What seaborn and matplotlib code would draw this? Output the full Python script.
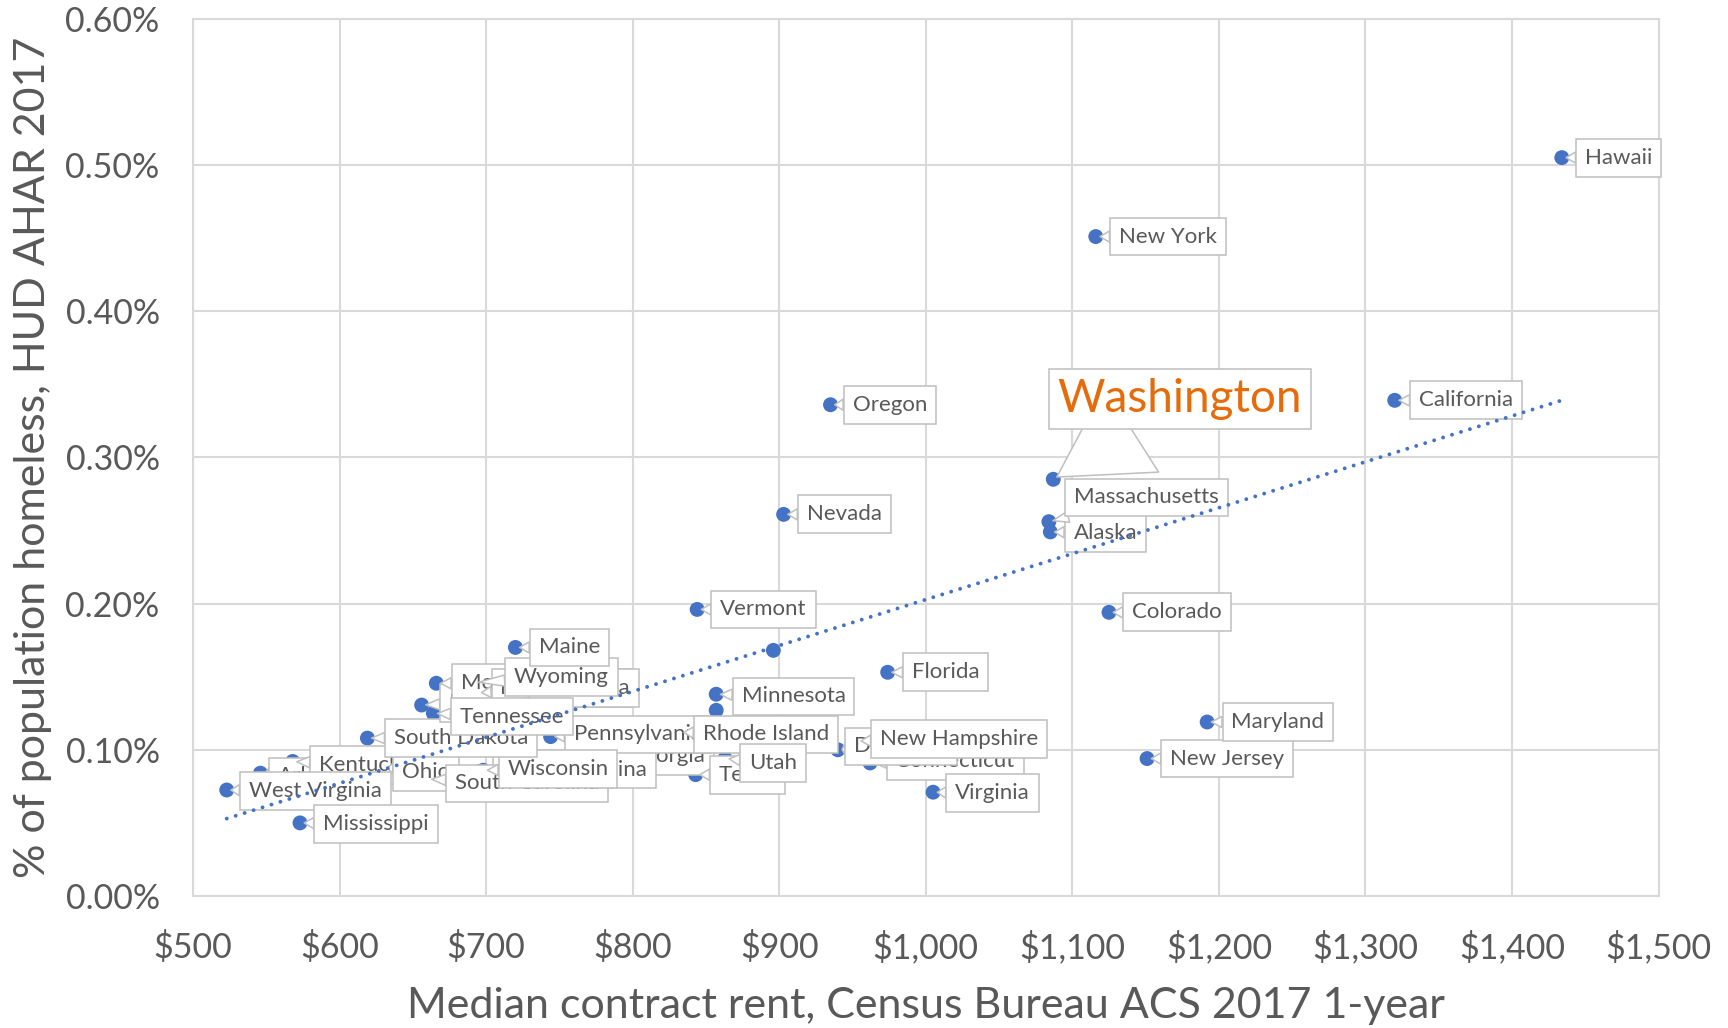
import numpy as np
import pandas as pd
import matplotlib
matplotlib.use('Agg')
import matplotlib.pyplot as plt
from matplotlib.ticker import FuncFormatter
import seaborn as sns

# median contract rent ($) and % of population homeless
states = ['Hawaii', 'New York', 'California', 'Oregon', 'Washington', 'Nevada',
          'Massachusetts', 'Alaska', 'Vermont', 'Colorado', 'Maine', '',
          'Florida', 'Maryland', 'New Jersey', 'Virginia', 'Mississippi',
          'Arizona', 'Minnesota', 'Connecticut', 'Delaware', 'New Hampshire',
          'Texas', 'Utah', 'Pennsylvania', 'Rhode Island', 'Georgia',
          'North Carolina', 'Wisconsin', 'South Carolina', 'Ohio', 'Kentucky',
          'Arkansas', 'West Virginia', 'South Dakota', 'Tennessee', 'Idaho',
          'Montana', 'New Mexico', 'Nebraska', 'Wyoming']
rent = [1434, 1116, 1320, 935, 1087, 903,
        1084, 1085, 844, 1125, 720, 896,
        974, 1192, 1151, 1005, 573,
        857, 857, 962, 940, 953,
        843, 863, 744, 832, 782,
        695, 698, 660, 630, 568,
        546, 523, 619, 664, 656,
        666, 694, 720, 692]
homeless_pct = [0.505, 0.451, 0.339, 0.336, 0.285, 0.261,
                0.256, 0.249, 0.196, 0.194, 0.170, 0.168,
                0.153, 0.119, 0.094, 0.071, 0.050,
                0.127, 0.138, 0.091, 0.100, 0.106,
                0.083, 0.094, 0.109, 0.112, 0.093,
                0.085, 0.086, 0.080, 0.088, 0.092,
                0.084, 0.0725, 0.108, 0.125, 0.1306,
                0.1455, 0.139, 0.130, 0.146]

# where each callout sits: (right, down) from its point, in reference pixels
label_offsets = {
    'Connecticut': (23, -2), 'Delaware': (15, -3), 'New Hampshire': (21, -2),
    'Georgia': (20, -4), 'North Carolina': (21, -2), 'Texas': (21, 0),
    'Pennsylvania': (21, -2), 'Rhode Island': (21, 2), 'Utah': (22, 4),
    'Arkansas': (16, 3), 'Kentucky': (24, 3), 'Ohio': (17, 4),
    'South Carolina': (25, 4), 'Wisconsin': (22, -1), 'South Dakota': (24, 0),
    'Idaho': (25, -2), 'Montana': (22, 0), 'New Mexico': (21, -4),
    'Nebraska': (20, -16), 'Tennessee': (24, 3), 'Wyoming': (36, -5),
    'West Virginia': (20, 1),
    'Mississippi': (21, 1), 'Minnesota': (23, 2), 'Maine': (21, 0),
    'Vermont': (21, 0), 'Florida': (22, 0), 'Virginia': (20, 1),
    'New Jersey': (21, 0), 'Maryland': (22, 0), 'Colorado': (21, 0),
    'Nevada': (21, 0), 'Oregon': (20, 0), 'California': (22, 0),
    'New York': (21, 0), 'Hawaii': (21, 0), 'Alaska': (21, 1),
    'Massachusetts': (23, -22),
}
K = 0.7935  # reference px -> points

df = pd.DataFrame({'state': states, 'rent': rent, 'pct': homeless_pct})

sns.set_theme(style='whitegrid')
plt.rcParams['font.family'] = ['Lato', 'DejaVu Sans']

grey = '#595959'
blue = '#4472C4'

fig = plt.figure(figsize=(17.28, 10.28), dpi=100)
ax = fig.add_axes([0.1117, 0.1284, 0.8481, 0.8534])
ax.set_facecolor('white')

sns.scatterplot(data=df, x='rent', y='pct', color=blue, s=115,
                edgecolor='none', ax=ax, zorder=2)
sns.regplot(data=df, x='rent', y='pct', scatter=False, ci=None, ax=ax,
            line_kws=dict(color=blue, lw=2.8, ls=(0, (0.01, 2.4)),
                          dash_capstyle='round', zorder=100))

# callouts, drawn bottom to top
z = 3
for s in label_offsets:
    row = df[df.state == s].iloc[0]
    dx, dy = label_offsets[s]
    ax.annotate(s, xy=(row.rent, row.pct), xytext=(dx * K, -dy * K),
                textcoords='offset points', ha='left', va='center',
                fontsize=16, color=grey, zorder=z,
                bbox=dict(boxstyle='square,pad=0.4', fc='white',
                          ec='#bfbfbf', lw=1.1),
                arrowprops=dict(arrowstyle='wedge,tail_width=0.5,shrink_factor=0.5',
                                fc='white', ec='#bfbfbf', lw=1.1,
                                shrinkA=0, shrinkB=3))
    z += 1

wa = df[df.state == 'Washington'].iloc[0]
ax.annotate('Washington', xy=(wa.rent, wa.pct), xytext=(4 * K, 73 * K),
            textcoords='offset points', ha='left', va='center',
            fontsize=33, color='#E46C0A', zorder=z,
            bbox=dict(boxstyle='square,pad=0.2', fc='white', ec='#bfbfbf', lw=1.1),
            arrowprops=dict(arrowstyle='wedge,tail_width=2.2,shrink_factor=0.5',
                            fc='white', ec='#bfbfbf', lw=1.1,
                            shrinkA=0, shrinkB=3))

ax.set_xlim(500, 1500)
ax.set_ylim(0, 0.6)
ax.set_xticks(np.arange(500, 1501, 100))
ax.set_yticks(np.arange(0, 0.61, 0.1))
ax.xaxis.set_major_formatter(FuncFormatter(lambda v, p: f'${v:,.0f}'))
ax.yaxis.set_major_formatter(FuncFormatter(lambda v, p: f'{v:.2f}%'))
ax.tick_params(axis='both', labelsize=24.5, colors=grey, length=0)
ax.tick_params(axis='x', pad=25)
ax.tick_params(axis='y', pad=24)
ax.grid(True, color='#d9d9d9', lw=1.5)
for sp in ax.spines.values():
    sp.set_color('#d9d9d9')
    sp.set_linewidth(1.5)

ax.set_xlabel('Median contract rent, Census Bureau ACS 2017 1-year',
              fontsize=31, color=grey, labelpad=16)
ax.set_ylabel('% of population homeless, HUD AHAR 2017',
              fontsize=31, color=grey, labelpad=10)

fig.savefig('out.png', dpi=100, facecolor='white')
